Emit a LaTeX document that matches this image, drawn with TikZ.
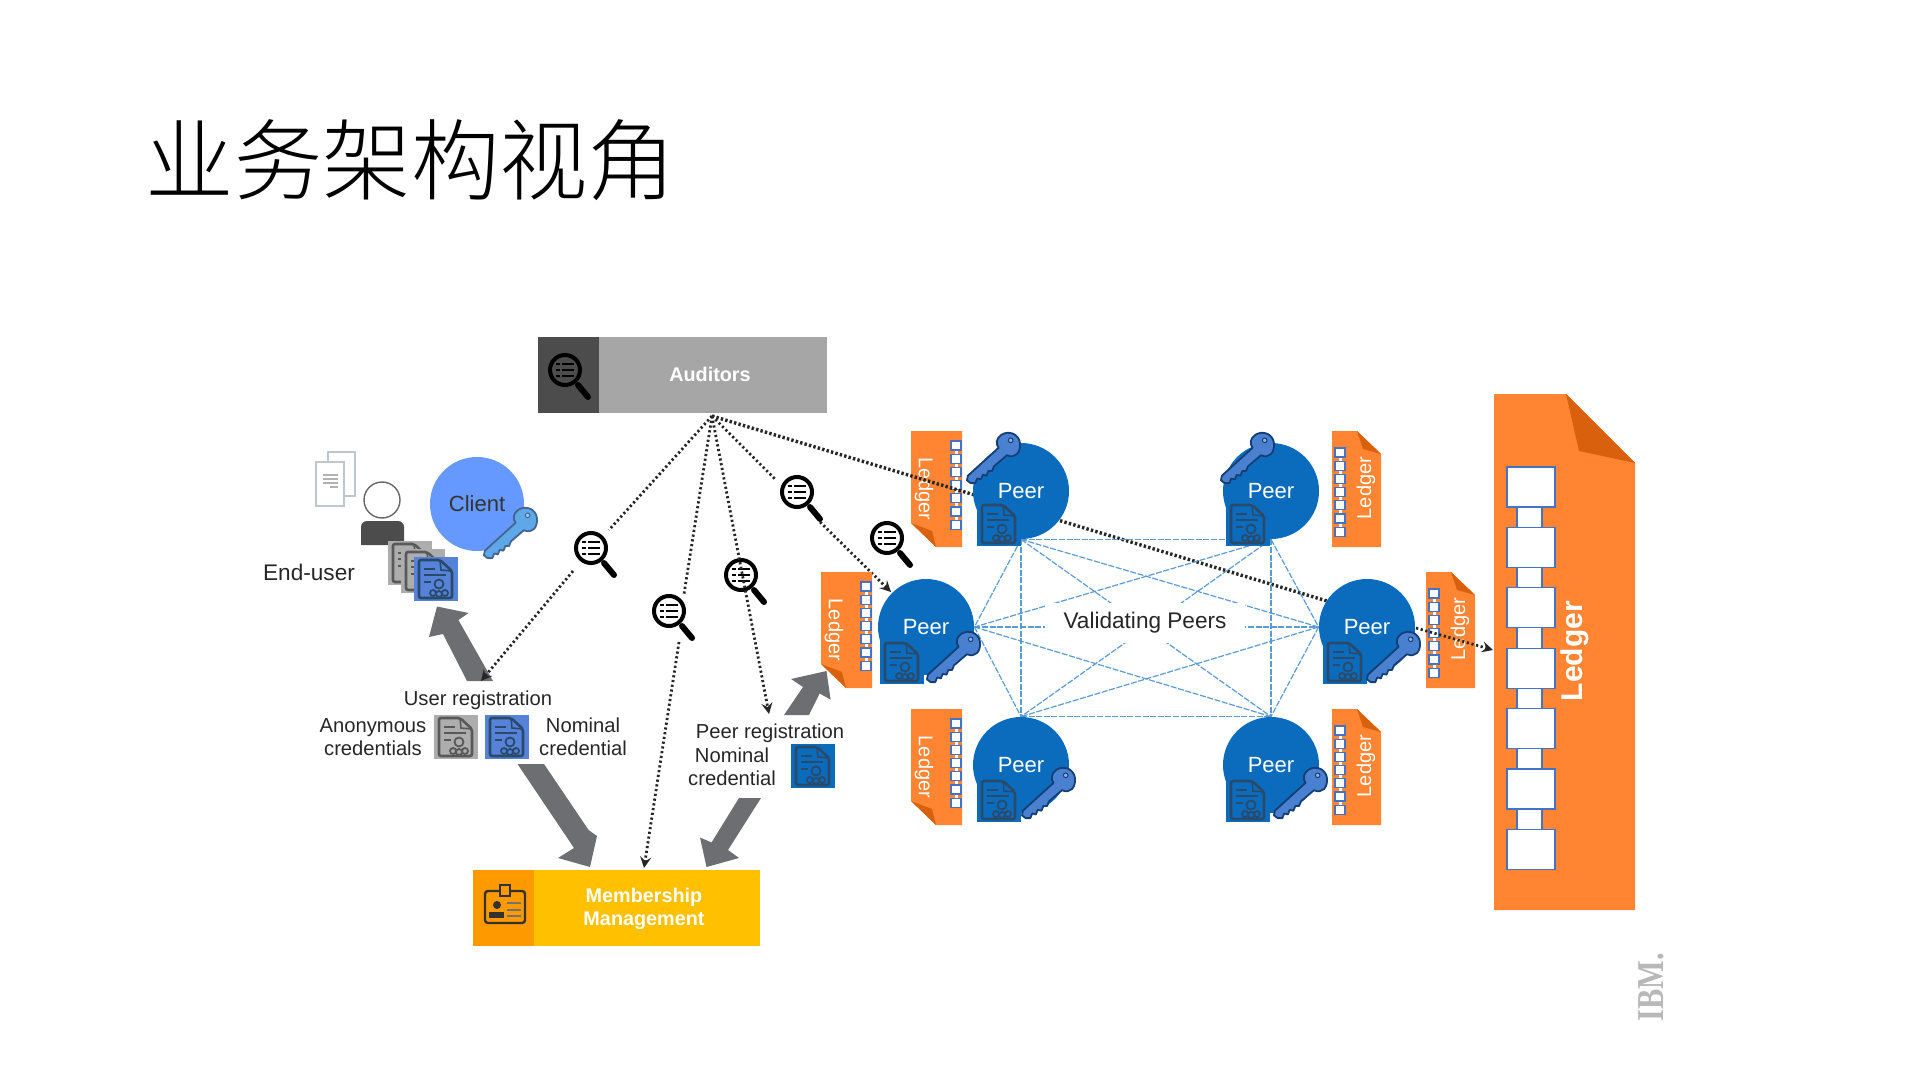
\documentclass[tikz,border=0pt]{standalone}
\usepackage{fontspec}
\setmainfont{Liberation Sans}
\newfontfamily\cjk{Noto Sans CJK SC Light}
\newfontfamily\ibmfont{Liberation Serif}
\usetikzlibrary{calc,positioning}
\definecolor{peerblue}{HTML}{0B6CBD}
\definecolor{clientblue}{HTML}{6699FF}
\definecolor{ledgerorange}{HTML}{FF8533}
\definecolor{ledgerfold}{HTML}{D9600D}
\definecolor{keyblue}{HTML}{4A80D0}
\definecolor{keyline}{HTML}{153E75}
\definecolor{clientkey}{HTML}{5FA8E8}
\definecolor{meshblue}{HTML}{5B9BD5}
\definecolor{blockline}{HTML}{4472C4}
\definecolor{arrowgray}{HTML}{6D6E71}
\definecolor{docline}{HTML}{2A4A6B}
\definecolor{membyellow}{HTML}{FFC000}
\definecolor{membdarkc}{HTML}{FF9900}
\tikzset{peer/.style={circle, fill=peerblue, text=white, inner sep=0pt, minimum size=48pt, font=\fontsize{11}{13}\selectfont}}
\tikzset{ledgertext/.style={text=white, inner sep=0pt, font=\fontsize{10}{11}\selectfont}}
\tikzset{lbl/.style={inner sep=0pt, align=center, text=black!85, font=\fontsize{10.1}{11.7}\selectfont}}
\tikzset{biglbl/.style={inner sep=0pt, text=black!85, font=\fontsize{11.3}{13}\selectfont}}
\tikzset{whitebold/.style={inner sep=0pt, align=center, text=white, font=\fontsize{9.9}{11.7}\selectfont\bfseries}}
\tikzset{block/.style={draw=blockline, fill=white, line width=0.6pt, inner sep=0pt, minimum width=24pt, minimum height=20pt}}
\tikzset{lens/.style={circle, draw=black, fill=white, line width=2pt, inner sep=0pt, minimum size=15pt}}
\tikzset{dots/.style={line width=1.4pt, dash pattern=on 1.1pt off 1.3pt, black!85}}
\tikzset{thickdots/.style={line width=1.7pt, dash pattern=on 1.2pt off 1.1pt, black!85}}
\tikzset{mesh/.style={meshblue, line width=0.6pt, dash pattern=on 3pt off 0.8pt}}
\tikzset{blockarrow/.style={fill=arrowgray}}
% head centre of the key at #1,#2
\newcommand{\keyicon}[4]{
    \begin{scope}[shift={(#1,#2)}, scale=0.93]
        \filldraw[fill=#3, draw=#4, line width=0.9pt, line join=round]
        (-8,3) -- (-41,33) -- (-42,38) -- (-38,41) -- (-33,41) -- (-31,36) -- (-27,37) -- (-25,32) -- (-21,33) -- (-19,28) -- (-15,28) -- (-13,23) -- (1,11)
        .. controls (10,15) and (16,8) .. (15,-2) .. controls (14,-12) and (3,-16) .. (-5,-11) .. controls (-11,-7) and (-11,-1) .. (-8,3) -- cycle;
        \filldraw[fill=#3!60!white, draw=#4, line width=0.5pt] (5,-5) circle (2.5);
    \end{scope}
}
% top left corner of the square at #1,#2
\newcommand{\certicon}[4]{
    \begin{scope}[shift={(#1,#2)}]
        \fill[#3] (0,0) rectangle (44,44);
        \draw[#4, line width=1.3pt, rounded corners=1pt] (5,3) -- (26,3) -- (38,14) -- (38,41) -- (5,41) -- cycle;
        \draw[#4, line width=0.8pt] (26,3) -- (27,13) -- (38,14);
        \draw[#4, line width=0.9pt] (10,12) -- (21,12) (10,18) -- (32,18) (10,25) -- (17,25);
        \draw[#4, line width=0.9pt] (25,27) circle (4.5) (19,36) circle (3) (25,37) circle (3) (31,36) circle (3);
    \end{scope}
}
% lens node #1 with handle and list
\newcommand{\lensicon}[1]{
    \begin{scope}[shift={(#1.center)}]
        \draw[black, line width=3pt, line cap=round] (13,15) -- (23,27);
        \draw[black, line width=1.4pt] (-9,-6) -- (-5,-6) (-3,-6) -- (9,-6) (-9,0) -- (-5,0) (-3,0) -- (9,0) (-9,6) -- (-5,6) (-3,6) -- (9,6);
    \end{scope}
}
% left ledger, corner at the bottom
\newcommand{\ledgerleft}[3]{
    \begin{scope}[shift={(#1,#2)}]
        \fill[ledgerorange] (0,0) -- (51,0) -- (51,116) -- (25,116) -- (0,92) -- cycle;
        \fill[ledgerfold] (0,92) -- (25,116) -- (21,100) -- cycle;
        \draw[white, line width=1.5pt] (45,12) -- (45,96);
        \foreach \i in {0,...,6}{
            \draw[blockline, fill=white, line width=0.6pt] (40,{10+13.2*\i}) rectangle (50,{19+13.2*\i});
        }
        \node[ledgertext, rotate=-90] (#3) at (13,58) {Ledger};
    \end{scope}
}
% right ledger, corner at the top
\newcommand{\ledgerright}[3]{
    \begin{scope}[shift={(#1,#2)}]
        \fill[ledgerorange] (0,0) -- (25,0) -- (49,23) -- (49,116) -- (0,116) -- cycle;
        \fill[ledgerfold] (25,0) -- (49,23) -- (31,18) -- cycle;
        \draw[white, line width=1.5pt] (8,19) -- (8,103);
        \foreach \i in {0,...,6}{
            \draw[blockline, fill=white, line width=0.6pt] (3,{17+13.2*\i}) rectangle (13,{26+13.2*\i});
        }
        \node[ledgertext, rotate=90] (#3) at (34,57) {Ledger};
    \end{scope}
}

\begin{document}
\begin{tikzpicture}[x=0.5pt, y=-0.5pt]
    \useasboundingbox (0,0) rectangle (1920,1080);

    \node[inner sep=0pt, font=\fontsize{44.2}{50}\selectfont\cjk] (title) at (411,160) {业务架构视角};

    \node[fill=black!35, inner sep=0pt, minimum width=144.5pt, minimum height=38pt] (audbox) at (682,375) {};
    \node[fill=black!70, inner sep=0pt, minimum width=30.5pt, minimum height=38pt] (auddark) at (568,375) {};
    \node[whitebold] (audtext) at (710,374) {Auditors};
    \coordinate (audf) at (712,416);
    \begin{scope}[shift={(-3,-5)}]
        \node[lens, fill=none, minimum size=15pt] (audlens) at (568,375) {};
        \lensicon{audlens}
    \end{scope}

    \node[fill=membyellow, inner sep=0pt, minimum width=143.5pt, minimum height=38pt] (memb) at (616.5,908) {};
    \node[fill=membdarkc, inner sep=0pt, minimum width=30.5pt, minimum height=38pt] (membdark) at (503.5,908) {};
    \node[whitebold] (membtext) at (644,909) {Membership\\Management};
    \draw[black!80, line width=1.2pt, rounded corners=1.5pt] (485,891) rectangle (525,923);
    \draw[black!80, line width=0.9pt, fill=membdarkc] (500,885) rectangle (510,896);
    \fill[black!80] (497,905) circle (4);
    \fill[black!80] (489,918) rectangle (504,912);
    \draw[black!55, line width=0.7pt] (507,903) -- (521,903) (507,910) -- (521,910) (507,916) -- (521,916);

    \draw[fill=white, draw=black!30!cyan!20!gray!50, line width=0.7pt] (328,452) rectangle (355,496);
    \draw[fill=white, draw=black!30!cyan!20!gray!50, line width=0.7pt] (316,462) rectangle (344,506);
    \draw[black!30, line width=0.7pt] (323,475) -- (338,475) (323,479) -- (338,479) (323,483) -- (338,483) (330,487) -- (338,487);

    \node[circle, draw=black!60, fill=white, line width=0.7pt, inner sep=0pt, minimum size=18pt] (head) at (382,500) {};
    \fill[black!70] (361,545) [rounded corners=3pt] -- (361,521) -- (404,521) [sharp corners] -- (404,545) -- cycle;
    \node[biglbl] (enduser) at (309,572) {End-user};

    \node[circle, fill=clientblue, inner sep=0pt, minimum size=47pt, text=black!80, font=\fontsize{11}{13}\selectfont] (client) at (477,504) {Client};
    \keyicon{523}{520}{clientkey}{keyline!80!white}
    \certicon{388}{541}{black!32}{black!65}
    \certicon{401}{549}{black!32}{black!65}
    \certicon{414}{557}{clientblue!85!black}{docline}

    \node[lbl] (ureg) at (478,700) {User registration};
    \node[lbl] (anon) at (373,737) {Anonymous\\credentials};
    \node[lbl] (nomu) at (583,737) {Nominal\\credential};
    \certicon{434}{715}{black!32}{black!65}
    \certicon{485}{715}{clientblue!85!black}{docline}

    \node[lbl] (preg) at (770,733) {Peer registration};
    \node[lbl] (nomp) at (732,767) {Nominal\\credential};
    \certicon{791}{744}{peerblue}{docline}

    \fill[blockarrow] (437,606.5) -- (468.6,613) -- (458.4,620) -- (493,681) -- (467,681) -- (443,634) -- (429,637) -- cycle;
    \fill[blockarrow] (517.5,764) -- (544,764) -- (588.6,830) -- (597,836) -- (590,867) -- (558,858) -- (574,848) -- cycle;
    \fill[blockarrow] (739,798) -- (761,798) -- (728,850) -- (739,858) -- (706.5,867) -- (700,837.5) -- (711.5,842.5) -- cycle;
    \fill[blockarrow] (784,715) -- (809,715) -- (819.6,693.5) -- (830.6,699.6) -- (826.5,671) -- (791,679) -- (803,687) -- cycle;

    \node[lens] (lensa) at (591,548) {};
    \node[lens] (lensb) at (669,611) {};
    \node[lens] (lensc) at (741,575) {};
    \node[lens] (lensd) at (797,492) {};
    \node[lens] (lense) at (887,538) {};
    \lensicon{lensa}
    \lensicon{lensb}
    \lensicon{lensc}
    \lensicon{lensd}
    \lensicon{lense}

    \coordinate (linea) at (609,530);
    \coordinate (lineb) at (573,571);
    \coordinate (linec) at (684,594);
    \coordinate (lined) at (679,642);
    \coordinate (linee) at (775,479);
    \coordinate (linef) at (820,522);
    \coordinate (ureghit) at (481,681);
    \coordinate (preghit) at (769,714);
    \coordinate (membhit) at (644,868);
    \coordinate (peerhit) at (891,592);
    \coordinate (bighit) at (1493,650);

    \draw[dots] (audf) -- (linea);
    \draw[dots, -stealth] (lineb) -- (ureghit);
    \draw[dots] (audf) -- (linec);
    \draw[dots, -stealth] (lined) -- (membhit);
    \draw[dots, -stealth] (audf) -- (preghit);
    \draw[dots] (audf) -- (linee);
    \draw[dots, -stealth] (linef) -- (peerhit);

    \ledgerleft{911}{431}{lga}
    \ledgerright{1332}{431}{lgb}
    \ledgerleft{821}{572}{lgc}
    \ledgerright{1426}{572}{lgd}
    \ledgerleft{911}{709}{lge}
    \ledgerright{1332}{709}{lgf}

    \coordinate (longhit) at (1327,601);
    \draw[thickdots] (audf) -- (longhit);

    \node[peer] (pa) at (1021,491) {Peer};
    \node[peer] (pb) at (1271,491) {Peer};
    \node[peer] (pc) at (926,627) {Peer};
    \node[peer] (pd) at (1367,627) {Peer};
    \node[peer] (pe) at (1021,765) {Peer};
    \node[peer] (pf) at (1271,765) {Peer};

    \foreach \from/\to in {pa.south/pb.south, pa.south/pc.east, pa.south/pd.west, pa.south/pe.north, pa.south/pf.north,
        pb.south/pc.east, pb.south/pd.west, pb.south/pe.north, pb.south/pf.north,
        pc.east/pd.west, pc.east/pe.north, pc.east/pf.north,
        pd.west/pe.north, pd.west/pf.north, pe.north/pf.north}{
        \draw[mesh] (\from) -- (\to);
    }
    \node[fill=white, inner sep=0pt, minimum width=100pt, minimum height=20pt, text=black!85, font=\fontsize{11.3}{13}\selectfont] (vpeers) at (1145,623) {Validating Peers};

    \certicon{977}{502}{peerblue}{docline}
    \certicon{1226}{502}{peerblue}{docline}
    \certicon{880}{640}{peerblue}{docline}
    \certicon{1323}{640}{peerblue}{docline}
    \certicon{977}{778}{peerblue}{docline}
    \certicon{1226}{778}{peerblue}{docline}

    \keyicon{1006}{445}{keyblue}{keyline}
    \keyicon{1260}{445}{keyblue}{keyline}
    \keyicon{966}{644}{keyblue}{keyline}
    \keyicon{1406}{644}{keyblue}{keyline}
    \keyicon{1061}{780}{keyblue}{keyline}
    \keyicon{1313}{780}{keyblue}{keyline}

    \fill[ledgerorange] (1494,394) -- (1566,394) -- (1635,463) -- (1635,910) -- (1494,910) -- cycle;
    \fill[ledgerfold] (1566,394) -- (1635,463) -- (1579,451) -- cycle;
    \foreach \i in {0,...,5}{
        \draw[blockline, fill=white, line width=0.6pt] (1517,{505+60.4*\i}) rectangle (1542,{530+60.4*\i});
    }
    \foreach \i in {0,...,6}{
        \node[block] (blk\i) at (1531,{487+60.4*\i}) {};
    }
    \node[inner sep=0pt, rotate=90, text=white, font=\fontsize{15}{17}\selectfont\bfseries] (bigledger) at (1575,651) {Ledger};

    \draw[dots, -stealth] (1416,628) -- (bighit);

    \node[inner sep=0pt, rotate=90, text=black!28, xscale=0.8, font=\fontsize{19}{21}\selectfont\ibmfont\bfseries] (ibm) at (1651,987) {IBM.};
\end{tikzpicture}
\end{document}
